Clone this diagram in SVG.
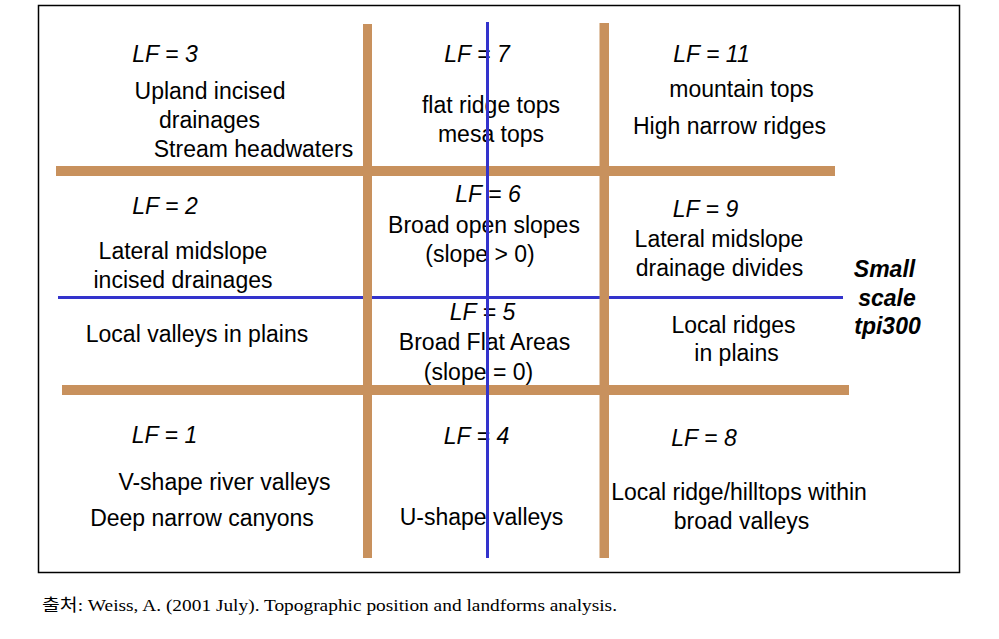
<svg xmlns="http://www.w3.org/2000/svg" width="999" height="639" viewBox="0 0 999 639">
<style>
.t{font-family:"Liberation Sans",Arial,sans-serif;font-size:23px;fill:#000;text-anchor:middle}
.lf{font-style:italic}
.sm{font-family:"Liberation Sans",Arial,sans-serif;font-size:23px;font-weight:bold;font-style:italic;text-anchor:middle;fill:#000}
.br{fill:#C8915D}
.bl{fill:#3333CC}
.ft{font-family:"Liberation Serif","Noto Sans CJK KR",serif;font-size:17px;fill:#000}
</style>
<rect x="38.5" y="5.5" width="921" height="567" fill="#fff" stroke="#000" stroke-width="1.5"/>
<g id="grid-back">
<rect class="bl" x="58" y="296" width="785" height="3"/>
<rect class="br" x="56" y="166" width="779" height="10"/>
<rect class="br" x="62" y="385" width="787" height="10"/>
<rect class="br" x="363" y="24" width="9" height="534"/>
<rect class="br" x="599.5" y="23" width="9.5" height="535"/>
</g>
<g id="lf3">
<text class="t lf" x="165" y="62">LF = 3</text>
<text class="t" x="210" y="99">Upland incised</text>
<text class="t" x="209.5" y="128">drainages</text>
<text class="t" x="253.5" y="157">Stream headwaters</text>
</g>
<g id="lf7">
<text class="t lf" x="477" y="62">LF = 7</text>
<text class="t" x="491" y="113">flat ridge tops</text>
<text class="t" x="491" y="142">mesa tops</text>
</g>
<g id="lf11">
<text class="t lf" x="711.5" y="62">LF = 11</text>
<text class="t" x="741.5" y="97">mountain tops</text>
<text class="t" x="729.5" y="134">High narrow ridges</text>
</g>
<g id="lf2">
<text class="t lf" x="165" y="214">LF = 2</text>
<text class="t" x="183" y="259">Lateral midslope</text>
<text class="t" x="183" y="288">incised drainages</text>
<text class="t" x="197" y="342">Local valleys in plains</text>
</g>
<g id="lf6">
<text class="t lf" x="488" y="202">LF = 6</text>
<text class="t" x="484" y="233">Broad open slopes</text>
<text class="t" x="480" y="262">(slope &gt; 0)</text>
</g>
<g id="lf5">
<text class="t lf" x="482.5" y="320">LF = 5</text>
<text class="t" x="484.5" y="350">Broad Flat Areas</text>
<text class="t" x="478.5" y="380">(slope = 0)</text>
</g>
<g id="lf9">
<text class="t lf" x="705.5" y="217">LF = 9</text>
<text class="t" x="719" y="247">Lateral midslope</text>
<text class="t" x="719.5" y="276">drainage divides</text>
<text class="t" x="733.5" y="333">Local ridges</text>
<text class="t" x="736.5" y="361">in plains</text>
</g>
<g id="scale-label">
<text class="sm" x="884.5" y="277">Small</text>
<text class="sm" x="887" y="306">scale</text>
<text class="sm" x="887.5" y="334">tpi300</text>
</g>
<g id="lf1">
<text class="t lf" x="164.5" y="443">LF = 1</text>
<text class="t" x="224.5" y="490">V-shape river valleys</text>
<text class="t" x="202" y="526">Deep narrow canyons</text>
</g>
<g id="lf4">
<text class="t lf" x="476.5" y="444">LF = 4</text>
<text class="t" x="481.5" y="525">U-shape valleys</text>
</g>
<g id="lf8">
<text class="t lf" x="704" y="446">LF = 8</text>
<text class="t" x="739" y="500">Local ridge/hilltops within</text>
<text class="t" x="741.5" y="529">broad valleys</text>
</g>
<g id="grid-front">
<rect class="bl" x="486" y="22" width="3" height="536"/>
</g>
<text class="ft" x="42" y="611" textLength="575" lengthAdjust="spacingAndGlyphs">출처: Weiss, A. (2001 July). Topographic position and landforms analysis.</text>
</svg>
